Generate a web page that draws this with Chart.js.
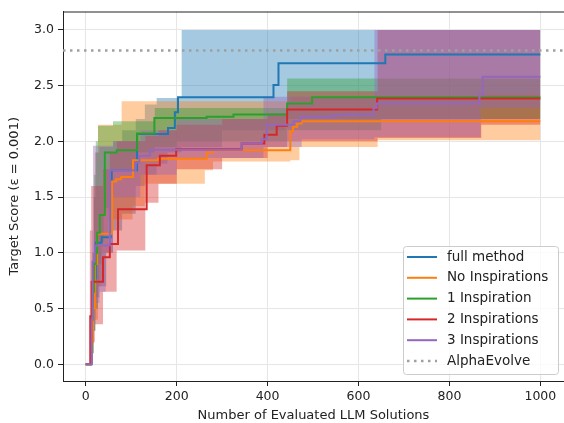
<!DOCTYPE html>
<html>
<head>
<meta charset="utf-8">
<script src="https://cdn.jsdelivr.net/npm/chart.js@4.4.0/dist/chart.umd.min.js"></script>
<style>
  html, body { margin: 0; padding: 0; background: #fff; overflow: hidden; }
</style>
</head>
<body>
<canvas id="scoreChart" width="564" height="423"></canvas>
<script>
// tick labels
const xTicks = [0, 200, 400, 600, 800, 1000];
const yTicks = [0, 0.5, 1.0, 1.5, 2.0, 2.5, 3.0];
const alphaEvolve = 2.815;

// mean curves (step: value holds until next x)
const fullX = [0, 12, 15, 18, 22, 35, 55, 57, 113, 181, 196, 203, 413, 424, 659, 1000];
const fullY = [0, 0.35, 0.6, 0.77, 1.09, 1.14, 1.57, 1.74, 2.065, 2.12, 2.26, 2.395, 2.505, 2.70, 2.78, 2.78];

const noInspX = [0, 12, 16, 20, 25, 58, 67, 78, 104, 159, 266, 280, 450, 456, 465, 475, 1000];
const noInspY = [0, 0.2, 0.5, 0.9, 1.17, 1.64, 1.66, 1.68, 1.83, 1.845, 1.90, 1.92, 2.09, 2.13, 2.16, 2.18, 2.18];

const oneInspX = [0, 12, 15, 18, 22, 25, 31, 42, 53, 68, 113, 151, 266, 325, 443, 498, 1000];
const oneInspY = [0, 0.4, 0.65, 0.9, 1.0, 1.18, 1.34, 1.90, 1.90, 1.92, 2.07, 2.21, 2.22, 2.24, 2.34, 2.395, 2.395];

const twoInspX = [0, 9, 10, 13, 38, 53, 71, 134, 163, 199, 343, 393, 420, 443, 641, 1000];
const twoInspY = [0, 0, 0.43, 0.74, 0.96, 1.08, 1.39, 1.785, 1.87, 1.93, 1.98, 2.06, 2.14, 2.285, 2.385, 2.385];

const threeInspX = [0, 12, 13, 15, 20, 53, 110, 118, 141, 343, 387, 398, 457, 472, 545, 575, 633, 640, 866, 873, 1000];
const threeInspY = [0, 0, 0.4, 0.92, 1.065, 1.74, 1.81, 1.87, 1.925, 1.98, 2.02, 2.15, 2.18, 2.22, 2.235, 2.24, 2.30, 2.34, 2.42, 2.58, 2.58];

// min / max bands
const fullBandX = [0, 12, 15, 18, 22, 30, 45, 60, 80, 110, 130, 156, 180, 211, 300, 440, 1000];
const fullHi = [0, 0.5, 1.0, 1.5, 1.9, 1.95, 1.95, 2.0, 2.1, 2.2, 2.33, 2.39, 2.39, 3.0, 3.0, 3.0, 3.0];
const fullLo = [0, 0, 0.3, 0.5, 0.6, 0.7, 1.0, 1.2, 1.35, 1.6, 1.7, 1.8, 1.9, 1.95, 2.1, 2.2, 2.2];

const noInspBandX = [0, 12, 15, 18, 20, 27, 35, 49, 79, 103, 130, 262, 280, 450, 470, 642, 870, 1000];
const noInspHi = [0, 0.3, 0.8, 1.5, 1.9, 2.15, 2.15, 2.15, 2.36, 2.36, 2.36, 2.36, 2.36, 2.40, 2.40, 2.40, 2.42, 2.42];
const noInspLo = [0, 0, 0.1, 0.3, 0.4, 0.7, 1.0, 1.3, 1.3, 1.42, 1.62, 1.74, 1.82, 1.83, 1.95, 2.01, 2.01, 2.01];

const oneBandX = [0, 12, 15, 18, 22, 27, 30, 35, 40, 60, 113, 152, 200, 443, 650, 1000];
const oneHi = [0, 0.4, 1.0, 1.7, 2.0, 2.14, 2.14, 2.14, 2.14, 2.18, 2.18, 2.30, 2.30, 2.565, 2.565, 2.565];
const oneLo = [0, 0, 0.1, 0.3, 0.5, 0.7, 0.9, 1.1, 1.4, 1.75, 1.9, 1.95, 2.0, 2.1, 2.2, 2.2];

const twoBandX = [0, 9, 12, 20, 38, 53, 68, 131, 160, 200, 300, 400, 443, 642, 870, 1000];
const twoHi = [0, 1.2, 1.6, 1.6, 1.75, 1.9, 2.0, 2.05, 2.1, 2.15, 2.2, 2.25, 2.45, 3.0, 3.0, 3.0];
const twoLo = [0, 0, 0.2, 0.36, 0.65, 0.65, 1.02, 1.45, 1.62, 1.75, 1.85, 1.95, 2.0, 2.03, 2.15, 2.15];

const threeBandX = [0, 12, 13, 16, 20, 30, 44, 60, 120, 200, 391, 475, 635, 869, 1000];
const threeHi = [0, 0.6, 1.2, 1.96, 1.96, 1.96, 1.96, 2.0, 2.1, 2.2, 2.4, 2.4, 3.0, 3.0, 3.0];
const threeLo = [0, 0, 0, 0.3, 0.55, 0.65, 1.0, 1.5, 1.7, 1.85, 1.95, 2.02, 2.04, 2.3, 2.3];

const series = [
    { label: 'full method', rgb: [31, 119, 180], x: fullX, y: fullY, bx: fullBandX, lo: fullLo, hi: fullHi },
    { label: 'No Inspirations', rgb: [255, 127, 14], x: noInspX, y: noInspY, bx: noInspBandX, lo: noInspLo, hi: noInspHi },
    { label: '1 Inspiration', rgb: [44, 160, 44], x: oneInspX, y: oneInspY, bx: oneBandX, lo: oneLo, hi: oneHi },
    { label: '2 Inspirations', rgb: [214, 39, 40], x: twoInspX, y: twoInspY, bx: twoBandX, lo: twoLo, hi: twoHi },
    { label: '3 Inspirations', rgb: [148, 103, 189], x: threeInspX, y: threeInspY, bx: threeBandX, lo: threeLo, hi: threeHi }
];

const FONT = 'DejaVu Sans';
const rgba = (c, a) => `rgba(${c[0]},${c[1]},${c[2]},${a})`;
const pts = (xs, ys) => xs.map((x, i) => ({ x: x, y: ys[i] }));

const datasets = [];
series.forEach((s, i) => {
    datasets.push({
        data: pts(s.bx, s.hi), fill: '+1', backgroundColor: rgba(s.rgb, 0.4),
        borderWidth: 0, pointRadius: 0, stepped: true, order: 20 - i
    });
    datasets.push({
        data: pts(s.bx, s.lo), fill: false, borderWidth: 0, pointRadius: 0, stepped: true, order: 20 - i
    });
});
series.forEach((s, i) => {
    datasets.push({
        label: s.label, data: pts(s.x, s.y), borderColor: rgba(s.rgb, 1), borderWidth: 2,
        pointRadius: 0, fill: false, stepped: true, order: 10 - i
    });
});
datasets.push({
    label: 'AlphaEvolve', data: [{ x: -50, y: alphaEvolve }, { x: 1052, y: alphaEvolve }],
    borderColor: '#a0a0a0', borderWidth: 2.5, borderDash: [2.5, 4.5], pointRadius: 0, fill: false, order: 0
});

// top spine + matplotlib-like legend box
const framePlugin = {
    id: 'frame',
    afterDraw(chart) {
        const ctx = chart.ctx, a = chart.chartArea;
        ctx.save();
        ctx.strokeStyle = '#222';
        ctx.lineWidth = 1;
        ctx.beginPath();
        ctx.moveTo(a.left, a.top + 0.5);
        ctx.lineTo(a.right, a.top + 0.5);
        ctx.stroke();

        const bx = 403, by = 246, bw = 155, bh = 128, r = 3;
        ctx.fillStyle = 'rgba(255,255,255,0.8)';
        ctx.strokeStyle = '#cccccc';
        ctx.beginPath();
        ctx.roundRect(bx + 0.5, by + 0.5, bw, bh, r);
        ctx.fill();
        ctx.stroke();

        const items = series.map(s => ({ label: s.label, color: rgba(s.rgb, 1), dash: [] }));
        items.push({ label: 'AlphaEvolve', color: '#a0a0a0', dash: [2.5, 4.5] });
        ctx.font = `13.5px "${FONT}"`;
        ctx.textBaseline = 'middle';
        items.forEach((it, i) => {
            const y = 257 + i * 20.8;
            ctx.strokeStyle = it.color;
            ctx.lineWidth = it.dash.length ? 2.5 : 2;
            ctx.setLineDash(it.dash);
            ctx.beginPath();
            ctx.moveTo(407, y);
            ctx.lineTo(437, y);
            ctx.stroke();
            ctx.setLineDash([]);
            ctx.fillStyle = '#222';
            ctx.fillText(it.label, 447, y);
        });
        ctx.restore();
    }
};

new Chart(document.getElementById('scoreChart').getContext('2d'), {
    type: 'line',
    data: { datasets: datasets },
    options: {
        responsive: false,
        animation: false,
        devicePixelRatio: 1,
        layout: { padding: { top: 5, right: 0, bottom: 0, left: 0 } },
        plugins: { legend: { display: false }, tooltip: { enabled: false } },
        scales: {
            x: {
                type: 'linear', min: -50, max: 1052,
                afterBuildTicks: s => { s.ticks = xTicks.map(v => ({ value: v })); },
                afterFit: s => { s.height = 42; },
                grid: { color: '#e6e6e6', lineWidth: 1, tickLength: 5, tickColor: '#222' },
                border: { color: '#222', width: 1 },
                ticks: { font: { family: FONT, size: 12.5 }, color: '#222', padding: 3, maxRotation: 0,
                         autoSkip: false, callback: v => String(v) },
                title: { display: true, text: 'Number of Evaluated LLM Solutions', color: '#222',
                         font: { family: FONT, size: 13 }, padding: { top: 0, bottom: 0 } }
            },
            y: {
                type: 'linear', min: -0.15, max: 3.165,
                afterBuildTicks: s => { s.ticks = yTicks.map(v => ({ value: v })); },
                afterFit: s => { s.width = 63; },
                grid: { color: '#e6e6e6', lineWidth: 1, tickLength: 5, tickColor: '#222' },
                border: { color: '#222', width: 1 },
                ticks: { font: { family: FONT, size: 12.5 }, color: '#222', padding: 4,
                         callback: v => v.toFixed(1) },
                title: { display: true, text: 'Target Score (ε = 0.001)', color: '#222',
                         font: { family: FONT, size: 13 }, padding: { top: 7, bottom: 0 } }
            }
        }
    },
    plugins: [framePlugin]
});
</script>
</body>
</html>
